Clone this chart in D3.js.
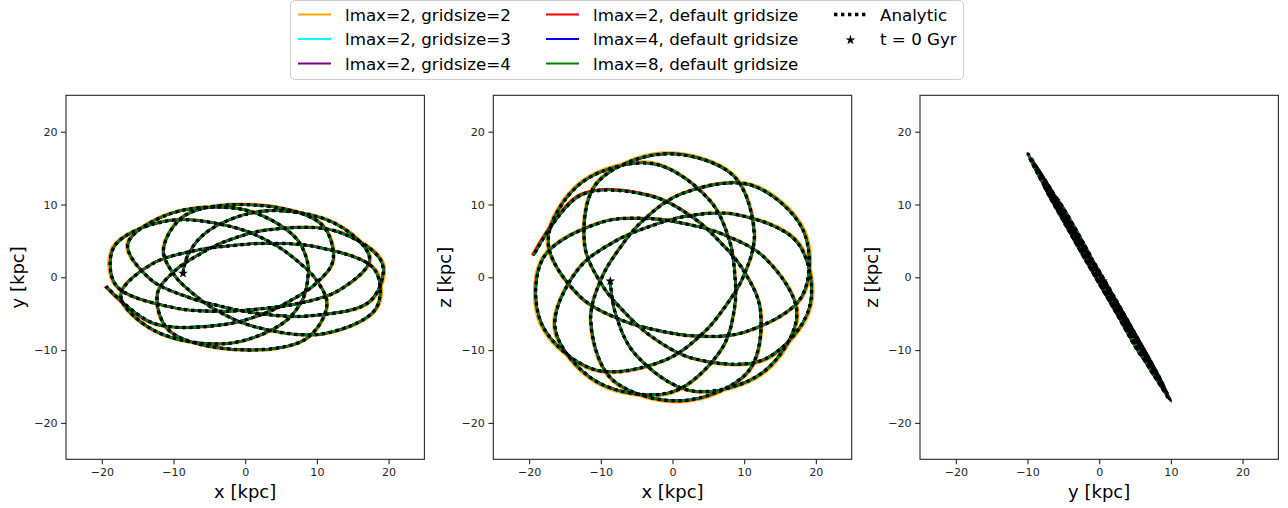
<!DOCTYPE html>
<html>
<head>
<meta charset="utf-8">
<script src="https://cdn.jsdelivr.net/npm/d3@7"></script>
<style>
  body { margin: 0; background: #fff; }
  svg { display: block; font-family: "DejaVu Sans", sans-serif; }
</style>
</head>
<body>
<svg id="chart" width="1288" height="508"></svg>
<script>
// Orbit samples in kpc, from t = 0 Gyr onward.
// Analytic potential (the lmax=2 gridsize=3/4, lmax=4 and lmax=8 runs lie on top of it).
const orbitX = [-8.68,-7.98,-5.20,2.70,12.66,17.35,12.96,6.99,2.10,-2.95,-10.04,-18.05,-18.27,-10.88,-1.16,4.37,7.38,9.80,11.40,8.45,-1.37,-10.63,-12.25,-9.69,-6.66,-3.11,3.00,12.83,19.11,17.45,8.73,1.62,-3.26,-7.88,-13.25,-16.37,-10.44,-0.16,6.85,8.69,8.68,7.98,5.20,-2.70,-12.66,-17.35,-12.96,-6.99,-2.10,2.95,10.04,18.05,18.27,10.88,1.16,-4.37,-7.38,-9.80,-11.40,-8.45,1.37,10.63,12.25,9.69,6.66,3.11,-3.00,-12.83,-19.40];
const orbitY = [0.53,3.09,6.34,9.11,7.32,2.50,-1.85,-3.67,-4.33,-4.66,-4.16,-1.06,4.22,7.75,6.75,4.33,2.15,-0.21,-3.77,-8.46,-9.92,-7.28,-2.32,0.99,3.00,4.79,6.49,6.29,1.92,-3.25,-5.31,-4.94,-4.01,-2.76,-0.24,4.56,8.74,9.28,5.61,2.07,-0.54,-3.09,-6.34,-9.11,-7.32,-2.50,1.85,3.67,4.33,4.66,4.15,1.06,-4.22,-7.75,-6.75,-4.33,-2.15,0.21,3.77,8.46,9.92,7.28,2.32,-0.99,-3.00,-4.79,-6.49,-6.29,-1.25];
const orbitZ = [-0.52,-4.90,-10.55,-15.60,-13.01,-5.00,2.58,5.92,7.28,8.05,7.52,2.61,-6.36,-12.68,-11.42,-7.56,-3.97,-0.07,5.90,13.99,16.94,12.84,4.48,-1.25,-4.82,-8.01,-11.17,-11.26,-4.11,4.75,8.65,8.33,6.95,5.02,1.00,-7.04,-14.40,-15.78,-9.83,-3.90,0.52,4.90,10.55,15.60,13.01,5.00,-2.58,-5.92,-7.28,-8.05,-7.52,-2.61,6.36,12.68,11.42,7.56,3.97,0.07,-5.90,-13.99,-16.94,-12.84,-4.48,1.25,4.82,8.01,11.17,11.26,3.00];

// lmax=2, gridsize=2
const coarseX = [-8.68,-8.00,-5.23,2.72,12.81,17.56,13.12,7.07,2.13,-2.99,-10.16,-18.27,-18.49,-11.01,-1.17,4.42,7.47,9.92,11.54,8.55,-1.39,-10.76,-12.40,-9.81,-6.74,-3.15,3.04,12.98,19.34,17.66,8.83,1.64,-3.30,-7.97,-13.41,-16.57,-10.57,-0.16,6.93,8.79,8.78,8.08,5.26,-2.73,-12.81,-17.56,-13.12,-7.07,-2.13,2.99,10.16,18.27,18.49,11.01,1.17,-4.42,-7.47,-9.92,-11.54,-8.55,1.39,10.76,12.40,9.81,6.74,3.15,-3.04,-12.98,-19.63];
const coarseY = [0.53,3.10,6.38,9.19,7.41,2.53,-1.87,-3.71,-4.38,-4.72,-4.21,-1.07,4.27,7.84,6.83,4.38,2.18,-0.21,-3.82,-8.56,-10.04,-7.37,-2.35,1.00,3.04,4.85,6.57,6.37,1.94,-3.29,-5.37,-5.00,-4.06,-2.79,-0.24,4.61,8.84,9.39,5.68,2.09,-0.55,-3.13,-6.42,-9.22,-7.41,-2.53,1.87,3.71,4.38,4.72,4.20,1.07,-4.27,-7.84,-6.83,-4.38,-2.18,0.21,3.82,8.56,10.04,7.37,2.35,-1.00,-3.04,-4.85,-6.57,-6.37,-1.27];
const coarseZ = [-0.52,-4.91,-10.61,-15.74,-13.17,-5.06,2.61,5.99,7.37,8.15,7.61,2.64,-6.44,-12.83,-11.56,-7.65,-4.02,-0.07,5.97,14.16,17.14,12.99,4.53,-1.27,-4.88,-8.11,-11.30,-11.40,-4.16,4.81,8.75,8.43,7.03,5.08,1.01,-7.12,-14.57,-15.97,-9.95,-3.95,0.53,4.96,10.68,15.79,13.17,5.06,-2.61,-5.99,-7.37,-8.15,-7.61,-2.64,6.44,12.83,11.56,7.65,4.02,0.07,-5.97,-14.16,-17.14,-12.99,-4.53,1.27,4.88,8.11,11.30,11.40,3.04];

// lmax=2, default gridsize
const lmax2X = [-8.68,-7.98,-5.20,2.70,12.66,17.35,12.96,6.99,2.10,-2.95,-10.04,-18.05,-18.27,-10.88,-1.16,4.37,7.38,9.80,11.40,8.45,-1.37,-10.63,-12.25,-9.69,-6.66,-3.11,3.00,12.83,19.11,17.45,8.73,1.62,-3.26,-7.88,-13.25,-16.37,-10.44,-0.16,6.85,8.69,8.68,7.98,5.20,-2.70,-12.66,-17.35,-12.96,-6.99,-2.10,2.95,10.04,18.05,18.27,10.88,1.16,-4.37,-7.38,-9.80,-11.40,-8.45,1.38,10.67,12.30,9.73,6.69,3.14,-3.02,-12.93,-19.56];
const lmax2Y = [0.53,3.09,6.34,9.11,7.32,2.50,-1.85,-3.67,-4.33,-4.66,-4.16,-1.06,4.22,7.75,6.75,4.33,2.15,-0.21,-3.77,-8.46,-9.92,-7.28,-2.32,0.99,3.00,4.79,6.49,6.29,1.92,-3.25,-5.31,-4.94,-4.01,-2.76,-0.24,4.56,8.74,9.28,5.61,2.07,-0.54,-3.09,-6.34,-9.11,-7.32,-2.50,1.85,3.67,4.33,4.66,4.15,1.06,-4.22,-7.75,-6.75,-4.33,-2.15,0.21,3.77,8.46,9.96,7.31,2.33,-0.99,-3.01,-4.83,-6.54,-6.34,-1.26];
const lmax2Z = [-0.52,-4.90,-10.55,-15.60,-13.01,-5.00,2.58,5.92,7.28,8.05,7.52,2.61,-6.36,-12.68,-11.42,-7.56,-3.97,-0.07,5.90,13.99,16.94,12.84,4.48,-1.25,-4.82,-8.01,-11.17,-11.26,-4.11,4.75,8.65,8.33,6.95,5.02,1.00,-7.04,-14.40,-15.78,-9.83,-3.90,0.52,4.90,10.55,15.60,13.01,5.00,-2.58,-5.92,-7.28,-8.05,-7.52,-2.61,6.36,12.68,11.42,7.56,3.97,0.07,-5.90,-13.99,-17.01,-12.89,-4.50,1.26,4.84,8.07,11.26,11.35,3.02];

const seriesLabels = ["lmax=2, gridsize=2", "lmax=2, gridsize=3", "lmax=2, gridsize=4",
                      "lmax=2, default gridsize", "lmax=4, default gridsize", "lmax=8, default gridsize"];
const analyticLabel = "Analytic";
const startLabel = "t = 0 Gyr";
const tickValues = [-20, -10, 0, 10, 20];
const axisDomain = [-25, 25];

// --- drawing ---
const paths = {
  orbit:  { x: orbitX,  y: orbitY,  z: orbitZ },
  coarse: { x: coarseX, y: coarseY, z: coarseZ },
  lmax2:  { x: lmax2X,  y: lmax2Y,  z: lmax2Z }
};
const seriesStyle = [
  { color: "orange", path: "coarse" },
  { color: "cyan",   path: "orbit" },
  { color: "purple", path: "orbit" },
  { color: "red",    path: "lmax2" },
  { color: "blue",   path: "orbit" },
  { color: "green",  path: "orbit" }
];

const svg = d3.select("#chart");
const plotTop = 95.3, plotBottom = 459.3;
const panelW = 358.4;
const panels = [
  { left: 66,    h: "x", v: "y", xlabel: "x [kpc]", ylabel: "y [kpc]" },
  { left: 493.3, h: "x", v: "z", xlabel: "x [kpc]", ylabel: "z [kpc]" },
  { left: 920,   h: "y", v: "z", xlabel: "y [kpc]", ylabel: "z [kpc]" }
];
const fmt = d3.format("d");
const ink = "#262626";

panels.forEach((p, pi) => {
  const sx = d3.scaleLinear().domain(axisDomain).range([p.left, p.left + panelW]);
  const sy = d3.scaleLinear().domain(axisDomain).range([plotBottom, plotTop]);
  const g = svg.append("g");

  const clipId = "clip-panel-" + pi;
  svg.append("clipPath").attr("id", clipId).append("rect")
    .attr("x", p.left).attr("y", plotTop).attr("width", panelW).attr("height", plotBottom - plotTop);
  const plot = g.append("g").attr("clip-path", `url(#${clipId})`);

  const lineFor = P => d3.line()
    .x(i => sx(P[p.h][i]))
    .y(i => sy(P[p.v][i]))
    .curve(d3.curveCatmullRom.alpha(0.5));
  const idx = d3.range(orbitX.length);

  seriesStyle.forEach(s => {
    plot.append("path").attr("d", lineFor(paths[s.path])(idx))
      .attr("fill", "none").attr("stroke", s.color).attr("stroke-width", 2.4)
      .attr("stroke-linejoin", "round").attr("stroke-linecap", "butt");
  });
  plot.append("path").attr("d", lineFor(paths.orbit)(idx))
    .attr("fill", "none").attr("stroke", "#000").attr("stroke-width", 3.4)
    .attr("stroke-dasharray", "3.4,3.6");

  // starting point
  plot.append("path")
    .attr("d", d3.symbol(d3.symbolStar, 30)())
    .attr("transform", `translate(${sx(paths.orbit[p.h][0])},${sy(paths.orbit[p.v][0])})`)
    .attr("fill", "#000");

  // axes
  const xa = d3.axisBottom(sx).tickValues(tickValues).tickFormat(fmt).tickSize(4.9).tickPadding(3.5);
  const ya = d3.axisLeft(sy).tickValues(tickValues).tickFormat(fmt).tickSize(4.9).tickPadding(3.5);
  const gx = g.append("g").attr("transform", `translate(0,${plotBottom})`).call(xa);
  const gy = g.append("g").attr("transform", `translate(${p.left},0)`).call(ya);
  [gx, gy].forEach(a => {
    a.select(".domain").remove();
    a.selectAll("line").attr("stroke", ink).attr("stroke-width", 1.1);
    a.selectAll("text").attr("fill", ink).style("font-size", "11.1px")
      .style("font-family", "'DejaVu Sans', sans-serif");
  });
  g.append("rect").attr("x", p.left).attr("y", plotTop).attr("width", panelW).attr("height", plotBottom - plotTop)
    .attr("fill", "none").attr("stroke", ink).attr("stroke-width", 1.1);

  g.append("text").attr("x", p.left + panelW / 2).attr("y", 498)
    .attr("text-anchor", "middle").style("font-size", "18px").attr("fill", "#000").text(p.xlabel);
  g.append("text").attr("transform", `translate(${p.left - 42},${(plotTop + plotBottom) / 2}) rotate(-90)`)
    .attr("text-anchor", "middle").style("font-size", "18px").attr("fill", "#000").text(p.ylabel);
});

// legend
const lg = svg.append("g");
lg.append("rect").attr("x", 290.5).attr("y", 0.5).attr("width", 673).attr("height", 79)
  .attr("rx", 4).attr("fill", "#fff").attr("stroke", "#d0d0d0").attr("stroke-width", 1);
const rowsY = [14.5, 39, 63.5];
const colX = [298, 546, 834];
seriesLabels.forEach((lab, i) => {
  const col = Math.floor(i / 3), row = i % 3;
  const x0 = colX[col], y0 = rowsY[row];
  lg.append("line").attr("x1", x0).attr("x2", x0 + 33).attr("y1", y0).attr("y2", y0)
    .attr("stroke", seriesStyle[i].color).attr("stroke-width", 2.2);
  lg.append("text").attr("x", x0 + 47).attr("y", y0 + 6).style("font-size", "16.7px")
    .attr("fill", "#000").text(lab);
});
lg.append("line").attr("x1", colX[2]).attr("x2", colX[2] + 33).attr("y1", rowsY[0]).attr("y2", rowsY[0])
  .attr("stroke", "#000").attr("stroke-width", 3.4).attr("stroke-dasharray", "3.4,3.6");
lg.append("text").attr("x", colX[2] + 46).attr("y", rowsY[0] + 6).style("font-size", "16.7px")
  .attr("fill", "#000").text(analyticLabel);
lg.append("path").attr("d", d3.symbol(d3.symbolStar, 30)())
  .attr("transform", `translate(${colX[2] + 16.5},${rowsY[1] + 1})`).attr("fill", "#000");
lg.append("text").attr("x", colX[2] + 46).attr("y", rowsY[1] + 6).style("font-size", "16.7px")
  .attr("fill", "#000").text(startLabel);
</script>
</body>
</html>
